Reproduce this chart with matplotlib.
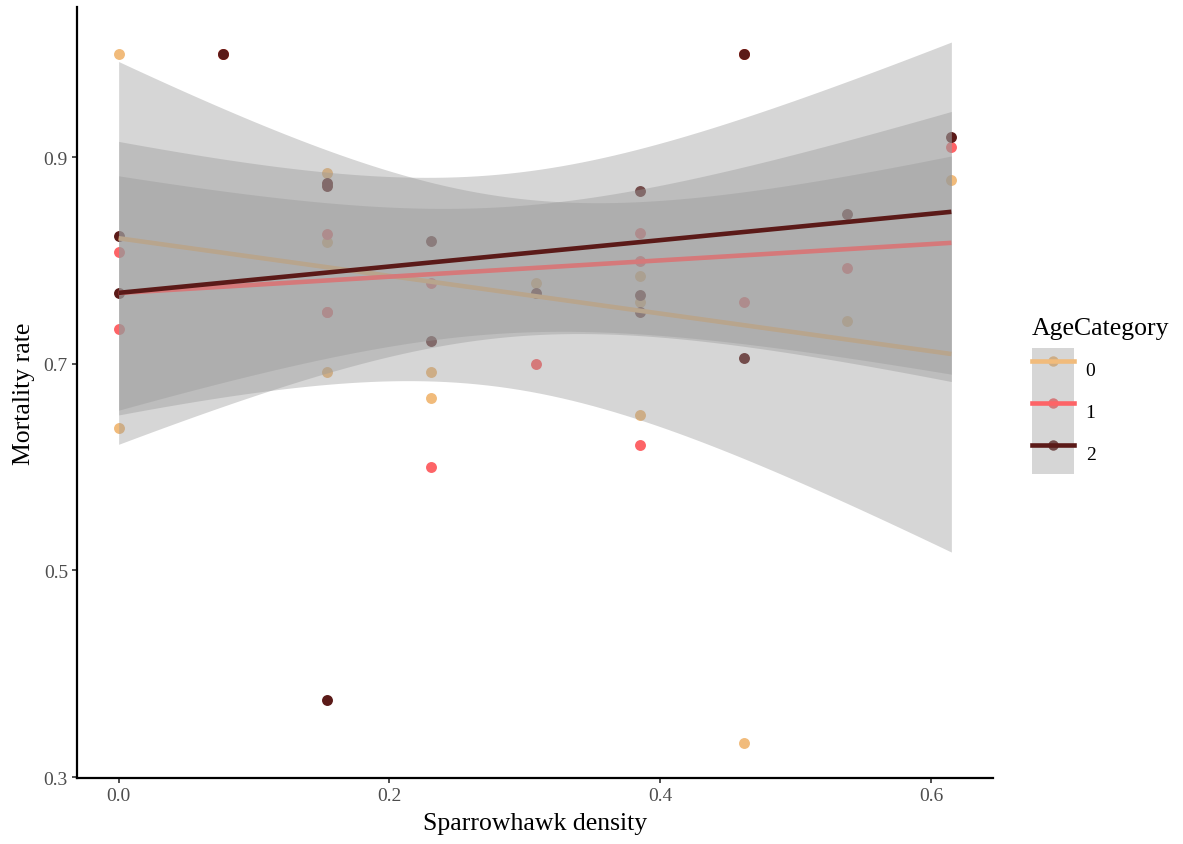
import numpy as np
import matplotlib
matplotlib.use("Agg")
import matplotlib.pyplot as plt
from matplotlib.lines import Line2D
from matplotlib.patches import Patch
from matplotlib.legend_handler import HandlerTuple

plt.rcParams['font.family'] = ['Liberation Serif', 'DejaVu Serif']

# sparrowhawk density, same site-years for each age class
density = np.array([0.000, 0.000, 0.077, 0.154, 0.154, 0.154, 0.231, 0.231,
                    0.308, 0.385, 0.385, 0.385, 0.462, 0.462, 0.538, 0.615])

# mortality rate per age category (rows match density)
mortality_age0 = np.array([1.000, 0.638, 1.000, 0.885, 0.818, 0.692, 0.692, 0.667,
                           0.778, 0.785, 0.760, 0.651, 0.333, 1.000, 0.742, 0.878])
mortality_age1 = np.array([0.808, 0.734, 1.000, 0.826, 0.750, 0.750, 0.778, 0.600,
                           0.700, 0.827, 0.800, 0.621, 0.760, 1.000, 0.793, 0.910])
mortality_age2 = np.array([0.824, 0.769, 1.000, 0.875, 0.872, 0.375, 0.819, 0.722,
                           0.769, 0.867, 0.767, 0.750, 1.000, 0.706, 0.845, 0.920])

age_labels = ["0", "1", "2"]
palette = ["#F1BB7B", "#FD6467", "#5B1A18"]  # GrandBudapest1
series = [mortality_age0, mortality_age1, mortality_age2]

T975 = 2.144787  # t quantile, 95% CI, df = 14


def lm_band(x, y, grid):
    # plain OLS fit with 95% confidence band (like geom_smooth(method="lm"))
    n = len(x)
    slope, icpt = np.polyfit(x, y, 1)
    resid = y - (icpt + slope * x)
    s = np.sqrt(resid @ resid / (n - 2))
    sxx = ((x - x.mean()) ** 2).sum()
    fit = icpt + slope * grid
    se = s * np.sqrt(1 / n + (grid - x.mean()) ** 2 / sxx)
    return fit, fit - T975 * se, fit + T975 * se


fig = plt.figure(figsize=(11.83, 8.45), dpi=100)
ax = fig.add_axes([77 / 1183, 1 - 779 / 845, (993 - 77) / 1183, (779 - 8) / 845])

# points first, the ribbons go on top of them
for y, col in zip(series, palette):
    ax.scatter(density, y, s=62, color=col, linewidths=0, zorder=1)

grid = np.linspace(density.min(), density.max(), 80)
for i, (y, col) in enumerate(zip(series, palette)):
    fit, lo, hi = lm_band(density, y, grid)
    ax.fill_between(grid, lo, hi, color="#999999", alpha=0.4, linewidth=0, zorder=2 + 2 * i)
    ax.plot(grid, fit, color=col, lw=3.3, solid_capstyle="butt", zorder=3 + 2 * i)

ax.margins(x=0.05, y=0.05)
ax.set_xticks([0.0, 0.2, 0.4, 0.6])
ax.set_xticklabels(["0.0", "0.2", "0.4", "0.6"])
ax.set_yticks([0.3, 0.5, 0.7, 0.9])
ax.set_yticklabels(["0.3", "0.5", "0.7", "0.9"])

for side in ["top", "right"]:
    ax.spines[side].set_visible(False)
for side in ["left", "bottom"]:
    ax.spines[side].set_linewidth(1.6)
    ax.spines[side].set_color("black")
ax.tick_params(length=3.5, width=1.2, color="#333333", labelcolor="#4D4D4D",
               labelsize=14, pad=3)

ax.set_xlabel("Sparrowhawk density", fontsize=18.5, labelpad=6)
ax.set_ylabel("Mortality rate", fontsize=18.5, labelpad=6)

# legend keys: point, ribbon over it, line on top (ggplot order)
handles = []
for col in palette:
    pt = Line2D([], [], marker="o", linestyle="none", color=col, markersize=7.5,
                markeredgewidth=0)
    rib = Patch(facecolor="#999999", alpha=0.4, edgecolor="none")
    ln = Line2D([], [], color=col, lw=3.3)
    handles.append((pt, rib, ln))

leg = fig.legend(handles, age_labels, title="AgeCategory",
                 handler_map={tuple: HandlerTuple(ndivide=1, pad=0)},
                 loc="upper left", bbox_to_anchor=(1032 / 1183, 1 - 318 / 845),
                 frameon=False, fontsize=14, title_fontsize=18.5,
                 handlelength=2.16, handleheight=2.95, labelspacing=0,
                 handletextpad=0.6, borderpad=0, borderaxespad=0,
                 alignment="left")
leg._legend_box.sep = 6.5  # gap between title and keys

fig.savefig("out.png", dpi=100)
